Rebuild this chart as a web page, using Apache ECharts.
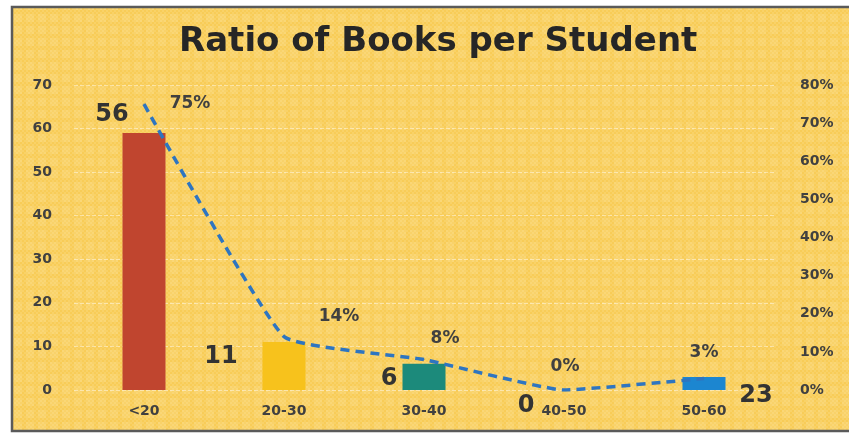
<!DOCTYPE html>
<html>
<head>
<meta charset="utf-8">
<script src="https://cdn.jsdelivr.net/npm/echarts@6/dist/echarts.min.js"></script>
<style>
html,body{margin:0;padding:0;background:#fff;}
#chart{width:849px;height:434px;}
</style>
</head>
<body>
<div id="chart"></div>
<script>
// ---- data ----
const categories = ['<20', '20-30', '30-40', '40-50', '50-60'];
const barValues = [59, 11, 6, 0, 3];          // bar heights as drawn
const barLabels = ['56', '11', '6', '0', '23']; // labels printed on the chart
const pctValues = [75, 14, 8, 0, 3];           // percent line
const leftTicks = [0, 70, 10];
const rightTicks = [0, 80, 10];

// ---- styling (not data) ----
const FONT = 'DejaVu Sans';
const barColors = ['#C0452F', '#F7C21C', '#1C8A7B', '#1C86D0', '#1C86D0'];
const barLabelOffsets = [[-32, -1], [-63, 32], [-35, 32], [-38, 33], [52, 36]];
const pctLabelOffsets = [[46, 14], [55, -6], [21, -7], [1, -9], [0, -12]];

// background pattern
const pc = document.createElement('canvas');
pc.width = 12; pc.height = 12;
const g = pc.getContext('2d');
g.fillStyle = '#F8CC57'; g.fillRect(0, 0, 12, 12);
for (let y = 0; y < 12; y += 2) for (let x = 0; x < 12; x += 2) {
  if (((x + y) / 2) % 2 === 0) { g.fillStyle = '#F9D268'; g.fillRect(x, y, 2, 2); }
}
g.fillStyle = 'rgba(255,235,180,0.2)';
g.fillRect(2, 2, 8, 8);

const chart = echarts.init(document.getElementById('chart'));
const labelColor = '#404040';
chart.setOption({
  animation: false,
  title: {
    text: 'Ratio of Books per Student',
    left: 174, top: 20,
    textStyle: { fontFamily: FONT, fontWeight: 'bold', fontSize: 34, color: '#262626' }
  },
  graphic: [{
    type: 'rect', z: -10, silent: true,
    shape: { x: 12, y: 7, width: 860, height: 424 },
    style: { fill: { image: pc, repeat: 'repeat' }, stroke: '#5a5a5a', lineWidth: 2.5 }
  }],
  grid: { left: 74, right: 75, top: 85, bottom: 44 },
  xAxis: {
    type: 'category', data: categories,
    axisLine: { show: false }, axisTick: { show: false },
    axisLabel: { margin: 14, color: labelColor, fontFamily: FONT, fontWeight: 'bold', fontSize: 14 }
  },
  yAxis: [{
    type: 'value', min: leftTicks[0], max: leftTicks[1], interval: leftTicks[2],
    axisLabel: { margin: 22, color: labelColor, fontFamily: FONT, fontWeight: 'bold', fontSize: 14 },
    axisLine: { show: false }, axisTick: { show: false },
    splitLine: { lineStyle: { color: 'rgba(255,255,255,0.45)', type: 'dashed', width: 1 } }
  }, {
    type: 'value', min: rightTicks[0], max: rightTicks[1], interval: rightTicks[2],
    axisLabel: { margin: 26, color: labelColor, fontFamily: FONT, fontWeight: 'bold', fontSize: 14, formatter: '{value}%' },
    axisLine: { show: false }, axisTick: { show: false }, splitLine: { show: false }
  }],
  series: [{
    type: 'bar', yAxisIndex: 0, barWidth: 43,
    data: barValues.map((v, i) => ({
      value: v,
      itemStyle: { color: barColors[i] },
      label: {
        show: true, position: 'top', offset: barLabelOffsets[i],
        formatter: () => barLabels[i],
        fontFamily: FONT, fontWeight: 'bold', fontSize: 24, color: '#333'
      }
    }))
  }, {
    type: 'line', yAxisIndex: 1, smooth: 0.12, symbol: 'circle', symbolSize: 1, showSymbol: true, z: 5,
    itemStyle: { color: '#2E75C0' },
    lineStyle: { color: '#2E75C0', width: 3.5, type: [9, 6] },
    data: pctValues.map((v, i) => ({
      value: v,
      label: {
        show: true, position: 'top', offset: pctLabelOffsets[i],
        formatter: '{c}%', fontFamily: FONT, fontWeight: 'bold', fontSize: 17, color: labelColor
      }
    }))
  }]
});
</script>
</body>
</html>
